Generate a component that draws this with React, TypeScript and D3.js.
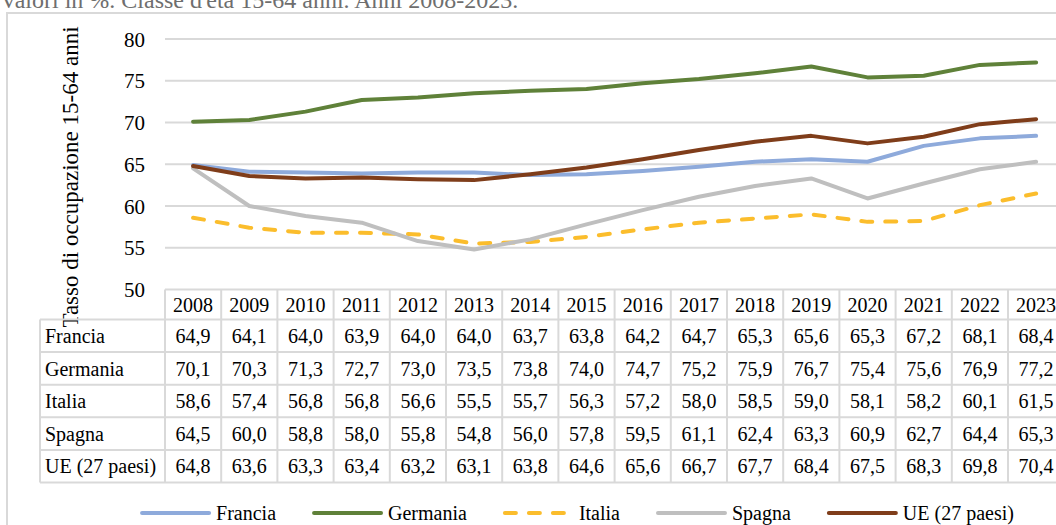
import React from "react";
import * as d3 from "d3";

const years = ["2008", "2009", "2010", "2011", "2012", "2013", "2014", "2015", "2016", "2017", "2018", "2019", "2020", "2021", "2022", "2023"];
const francia = [64.9, 64.1, 64.0, 63.9, 64.0, 64.0, 63.7, 63.8, 64.2, 64.7, 65.3, 65.6, 65.3, 67.2, 68.1, 68.4];
const germania = [70.1, 70.3, 71.3, 72.7, 73.0, 73.5, 73.8, 74.0, 74.7, 75.2, 75.9, 76.7, 75.4, 75.6, 76.9, 77.2];
const italia = [58.6, 57.4, 56.8, 56.8, 56.6, 55.5, 55.7, 56.3, 57.2, 58.0, 58.5, 59.0, 58.1, 58.2, 60.1, 61.5];
const spagna = [64.5, 60.0, 58.8, 58.0, 55.8, 54.8, 56.0, 57.8, 59.5, 61.1, 62.4, 63.3, 60.9, 62.7, 64.4, 65.3];
const ue = [64.8, 63.6, 63.3, 63.4, 63.2, 63.1, 63.8, 64.6, 65.6, 66.7, 67.7, 68.4, 67.5, 68.3, 69.8, 70.4];
const yTicks = [50, 55, 60, 65, 70, 75, 80];

const seriesNames = ["Francia", "Germania", "Italia", "Spagna", "UE (27 paesi)"];
const seriesValues = [francia, germania, italia, spagna, ue];
const seriesColors = ["#8eaadb", "#5f8139", "#fbbd2c", "#bfbfbf", "#7f3d1a"];
const seriesDashed = [false, false, true, false, false];

const FONT = "Liberation Serif, Times New Roman, DejaVu Serif, serif";
const W = 1056;
const H = 525;

// table / plot geometry
const colLeft = 165;
const colW = 56.2;
const labelLeft = 40;
const headerTop = 289.5;
const headerH = 30;
const rowH = 32.6;
const grid = "#d9d9d9";

const measure = (() => {
  let ctx: CanvasRenderingContext2D | null = null;
  return (txt: string, size: number) => {
    if (!ctx) ctx = document.createElement("canvas").getContext("2d");
    if (!ctx) return txt.length * size * 0.45;
    ctx.font = `${size}px "Liberation Serif", serif`;
    return ctx.measureText(txt).width;
  };
})();

const App = () => {
  const x = d3
    .scaleBand<string>()
    .domain(years)
    .range([colLeft, colLeft + colW * years.length])
    .padding(0);
  const cx = (yr: string) => (x(yr) as number) + x.bandwidth() / 2;
  const y = d3.scaleLinear().domain([50, 80]).range([headerTop, 39]);

  const line = d3
    .line<number>()
    .x((_, i) => cx(years[i]))
    .y((d) => y(d));

  const tableRight = colLeft + colW * years.length;
  const tableBottom = headerTop + headerH + rowH * seriesNames.length;

  // legend layout, centred
  const lineLen = 71;
  const textGap = 5;
  const itemGap = 36;
  const widths = seriesNames.map((n) => lineLen + textGap + measure(n, 20));
  const total = d3.sum(widths) + itemGap * (widths.length - 1);
  let lx = 577 - total / 2;
  const legendItems = seriesNames.map((n, i) => {
    const item = { name: n, x: lx, i };
    lx += widths[i] + itemGap;
    return item;
  });
  const legendY = 513;

  return (
    <svg
      width={W}
      height={H}
      style={{ position: "absolute", left: 0, top: 0, background: "#fff", fontFamily: FONT }}
    >
      {/* subtitle, cut off above the chart frame as in the source */}
      <text x={0} y={8} fontSize={24} fill="#6e6e6e">
        Valori in %. Classe d'età 15-64 anni. Anni 2008-2023.
      </text>

      {/* chart frame */}
      <rect x={7} y={13} width={W + 20} height={H + 20} fill="#fff" stroke={grid} strokeWidth={2} />

      {/* gridlines */}
      {yTicks
        .filter((t) => t > 50)
        .map((t) => (
          <line key={t} x1={colLeft} x2={tableRight} y1={y(t)} y2={y(t)} stroke={grid} strokeWidth={2} />
        ))}

      {/* y tick labels */}
      {yTicks.map((t) => (
        <text key={t} x={145} y={y(t)} dy="0.36em" textAnchor="end" fontSize={21} fill="#000">
          {t}
        </text>
      ))}

      {/* y axis title */}
      <text
        transform={`translate(78,${177}) rotate(-90)`}
        textAnchor="middle"
        fontSize={23}
        fill="#000"
      >
        Tasso di occupazione 15-64 anni
      </text>

      {/* data table */}
      <g stroke={grid} strokeWidth={2} fill="none">
        <line x1={colLeft} x2={tableRight} y1={headerTop} y2={headerTop} />
        {seriesNames.map((_, r) => (
          <line
            key={r}
            x1={labelLeft}
            x2={tableRight}
            y1={headerTop + headerH + rowH * r}
            y2={headerTop + headerH + rowH * r}
          />
        ))}
        <line x1={labelLeft} x2={tableRight} y1={tableBottom} y2={tableBottom} />
        <line x1={labelLeft} x2={labelLeft} y1={headerTop + headerH} y2={tableBottom} />
        {years.map((yr) => (
          <line key={yr} x1={x(yr)} x2={x(yr)} y1={headerTop} y2={tableBottom} />
        ))}
        <line x1={tableRight} x2={tableRight} y1={headerTop} y2={tableBottom} />
      </g>
      <g fontSize={20} fill="#000">
        {years.map((yr) => (
          <text key={yr} x={cx(yr)} y={headerTop + headerH / 2} dy="0.36em" textAnchor="middle">
            {yr}
          </text>
        ))}
        {seriesNames.map((n, r) => {
          const ry = headerTop + headerH + rowH * r + rowH / 2;
          return (
            <g key={n}>
              <text x={labelLeft + 5} y={ry} dy="0.36em">
                {n}
              </text>
              {seriesValues[r].map((v, i) => (
                <text key={i} x={cx(years[i])} y={ry} dy="0.36em" textAnchor="middle">
                  {v.toFixed(1).replace(".", ",")}
                </text>
              ))}
            </g>
          );
        })}
      </g>

      {/* series lines */}
      {seriesValues.map((vals, i) => (
        <path
          key={seriesNames[i]}
          d={line(vals) || ""}
          fill="none"
          stroke={seriesColors[i]}
          strokeWidth={4}
          strokeLinejoin="round"
          strokeLinecap="round"
          strokeDasharray={seriesDashed[i] ? "11 13" : undefined}
        />
      ))}

      {/* legend */}
      {legendItems.map((it) => (
        <g key={it.name}>
          <line
            x1={it.x + 2}
            x2={it.x + lineLen - 2}
            y1={legendY}
            y2={legendY}
            stroke={seriesColors[it.i]}
            strokeWidth={4}
            strokeLinecap="round"
            strokeDasharray={seriesDashed[it.i] ? "11 13" : undefined}
          />
          <text x={it.x + lineLen + textGap} y={legendY} dy="0.36em" fontSize={20} fill="#000">
            {it.name}
          </text>
        </g>
      ))}
    </svg>
  );
};

export default App;
